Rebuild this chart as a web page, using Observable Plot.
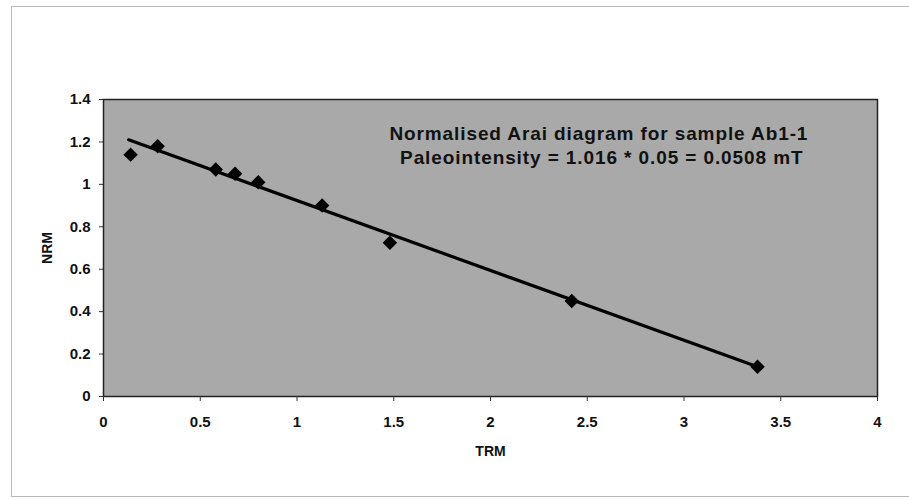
<!DOCTYPE html>
<html>
<head>
<meta charset="utf-8">
<script src="https://cdn.jsdelivr.net/npm/d3@7"></script>
<script src="https://cdn.jsdelivr.net/npm/@observablehq/plot@0.6"></script>
<style>
  html, body { margin: 0; padding: 0; background: #fff; }
  #wrap { position: relative; width: 909px; height: 499px; overflow: hidden; }
  #frame { position: absolute; left: 11px; top: 6px; width: 905px; height: 491px;
           border: 1px solid #b8b8b8; border-right: none; box-sizing: border-box; }
  #chart { position: absolute; left: 0; top: 0; }
  svg { font-family: "Liberation Sans", Arial, sans-serif; }
</style>
</head>
<body>
<div id="wrap"><div id="frame"></div><div id="chart"></div></div>
<script>
// Data
const trm = [0.14, 0.28, 0.58, 0.68, 0.80, 1.13, 1.48, 2.42, 3.38];
const nrm = [1.14, 1.18, 1.07, 1.05, 1.01, 0.90, 0.725, 0.45, 0.14];
// Fitted line endpoints as drawn
const fitX = [0.13, 3.38];
const fitY = [1.21, 0.14];
const xTicks = [0, 0.5, 1, 1.5, 2, 2.5, 3, 3.5, 4];
const yTicks = [0, 0.2, 0.4, 0.6, 0.8, 1, 1.2, 1.4];
const titleLines = ["Normalised Arai diagram for sample Ab1-1", "Paleointensity = 1.016 * 0.05 = 0.0508 mT"];
const titleX = [2.56, 2.575];
const titleY = [1.24, 1.127];

const points = trm.map((x, i) => ({x, y: nrm[i]}));
const fit = fitX.map((x, i) => ({x, y: fitY[i]}));
const notes = titleLines.map((t, i) => ({t, x: titleX[i], y: titleY[i]}));

const plot = Plot.plot({
  width: 909,
  height: 499,
  marginLeft: 103,
  marginRight: 32,
  marginTop: 99,
  marginBottom: 103,
  style: {fontSize: "15px", fontWeight: "bold", color: "#111", background: "transparent"},
  x: {domain: [0, 4], ticks: xTicks, tickFormat: d => String(d), label: null},
  y: {domain: [0, 1.4], ticks: yTicks, tickFormat: d => String(d), label: null},
  marks: [
    Plot.frame({fill: "url(#stipple)"}),
    Plot.frame({stroke: "#222", strokeWidth: 1.5}),
    Plot.axisX({ticks: xTicks, tickFormat: d => String(d), tickSize: 5, tickPadding: 15, label: null, stroke: "#333", fontSize: 15}),
    Plot.axisY({ticks: yTicks, tickFormat: d => String(d), tickSize: 4, tickPadding: 9, label: null, stroke: "#333", fontSize: 15}),
    Plot.text(["TRM"], {frameAnchor: "bottom", dy: 59, fontSize: 14, fontWeight: "bold"}),
    Plot.text(["NRM"], {frameAnchor: "left", textAnchor: "middle", dx: -56, rotate: -90, fontSize: 14, fontWeight: "bold"}),
    Plot.line(fit, {x: "x", y: "y", stroke: "#000", strokeWidth: 3.2}),
    Plot.dot(points, {x: "x", y: "y", symbol: "diamond2", r: 6.5, fill: "#000", stroke: "none"}),
    Plot.text(notes, {x: "x", y: "y", text: "t", fontSize: 19, fontWeight: "bold", fill: "#111"})
  ]
});

// Stipple pattern definition for the plot area
const svgNS = "http://www.w3.org/2000/svg";
const defs = document.createElementNS(svgNS, "defs");
defs.innerHTML = `<pattern id="stipple" width="2" height="2" patternUnits="userSpaceOnUse">
  <rect width="2" height="2" fill="#d2d2d2"/>
  <rect width="1" height="1" fill="#808080"/>
  <rect x="1" y="1" width="1" height="1" fill="#808080"/>
</pattern>`;
plot.insertBefore(defs, plot.firstChild);
// widen the annotation lettering like the scanned original
plot.querySelectorAll("text").forEach(t => {
  if (titleLines.includes(t.textContent)) t.setAttribute("letter-spacing", "0.9");
});
document.getElementById("chart").appendChild(plot);
</script>
</body>
</html>
